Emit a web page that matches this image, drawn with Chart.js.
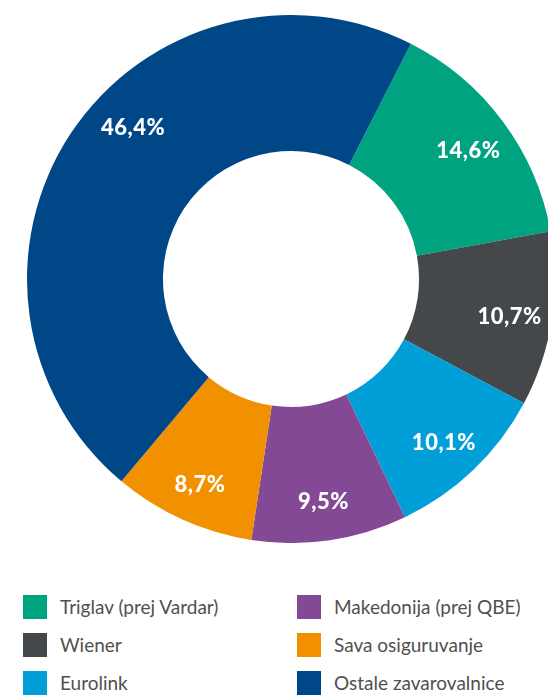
<!DOCTYPE html>
<html>
<head>
<meta charset="utf-8">
<script src="https://cdn.jsdelivr.net/npm/chart.js@4"></script>
<style>
  html, body { margin:0; padding:0; background:#fff; width:548px; height:695px; overflow:hidden; position:relative; }
  #wrap { position:absolute; left:27px; top:15px; width:528px; height:528px; }
  #legend { position:absolute; left:23px; top:595px; display:grid; grid-auto-flow:column;
            grid-template-rows:repeat(3, 38px); grid-template-columns:274px 250px; }
  .item { display:flex; align-items:flex-start; font-family:Lato, sans-serif; font-size:19px; color:#505050; }
  .box { width:24px; height:24px; margin-right:13px; flex:none; }
  .item span { line-height:24px; white-space:nowrap; }
</style>
</head>
<body>
<div id="wrap"><canvas id="pie" width="528" height="528"></canvas></div>
<div id="legend"></div>
<script>
    // market shares, clockwise from the top right
    const labels = ['Triglav (prej Vardar)', 'Wiener', 'Eurolink', 'Makedonija (prej QBE)', 'Sava osiguruvanje', 'Ostale zavarovalnice']
    const shares = [14.6, 10.7, 10.1, 9.5, 8.7, 46.4]
    const colors = ['#00a37f', '#45484b', '#009fd7', '#834995', '#f29100', '#004788']
    // small nudge for where the big label sits (degrees)
    const labelShift = [0, 0, 0, 0, 0, 11]

    const sliceLabels = {
        id: 'sliceLabels',
        afterDatasetsDraw(chart){
            const ctx = chart.ctx
            const meta = chart.getDatasetMeta(0)
            ctx.save()
            ctx.fillStyle = '#fff'
            ctx.font = '900 22px Lato, sans-serif'
            ctx.letterSpacing = '0.5px'
            ctx.textAlign = 'center'
            ctx.textBaseline = 'middle'
            meta.data.forEach((arc, i) => {
                const p = arc.getProps(['x','y','startAngle','endAngle','outerRadius'], true)
                const a = (p.startAngle + p.endAngle)/2 + labelShift[i]*Math.PI/180
                const r = p.outerRadius*0.838
                const txt = shares[i].toFixed(1).replace('.', ',') + '%'
                ctx.fillText(txt, p.x + Math.cos(a)*r, p.y + Math.sin(a)*r + 4)
            })
            ctx.restore()
        }
    }

    new Chart('pie', {
        type: 'doughnut',
        data: {
            labels: labels,
            datasets: [{
                data: shares,
                backgroundColor: colors,
                borderWidth: 0
            }]
        },
        options: {
            responsive: false,
            animation: false,
            cutout: '48.5%',
            rotation: 27,
            layout: { padding: 0 },
            plugins: { legend: { display: false }, tooltip: { enabled: false } }
        },
        plugins: [sliceLabels]
    })

    // legend below, two columns filled top to bottom
    const legend = document.getElementById('legend')
    labels.forEach((l, i) => {
        const d = document.createElement('div')
        d.className = 'item'
        d.innerHTML = '<div class="box" style="background:' + colors[i] + '"></div><span>' + l + '</span>'
        legend.appendChild(d)
    })
</script>
</body>
</html>
